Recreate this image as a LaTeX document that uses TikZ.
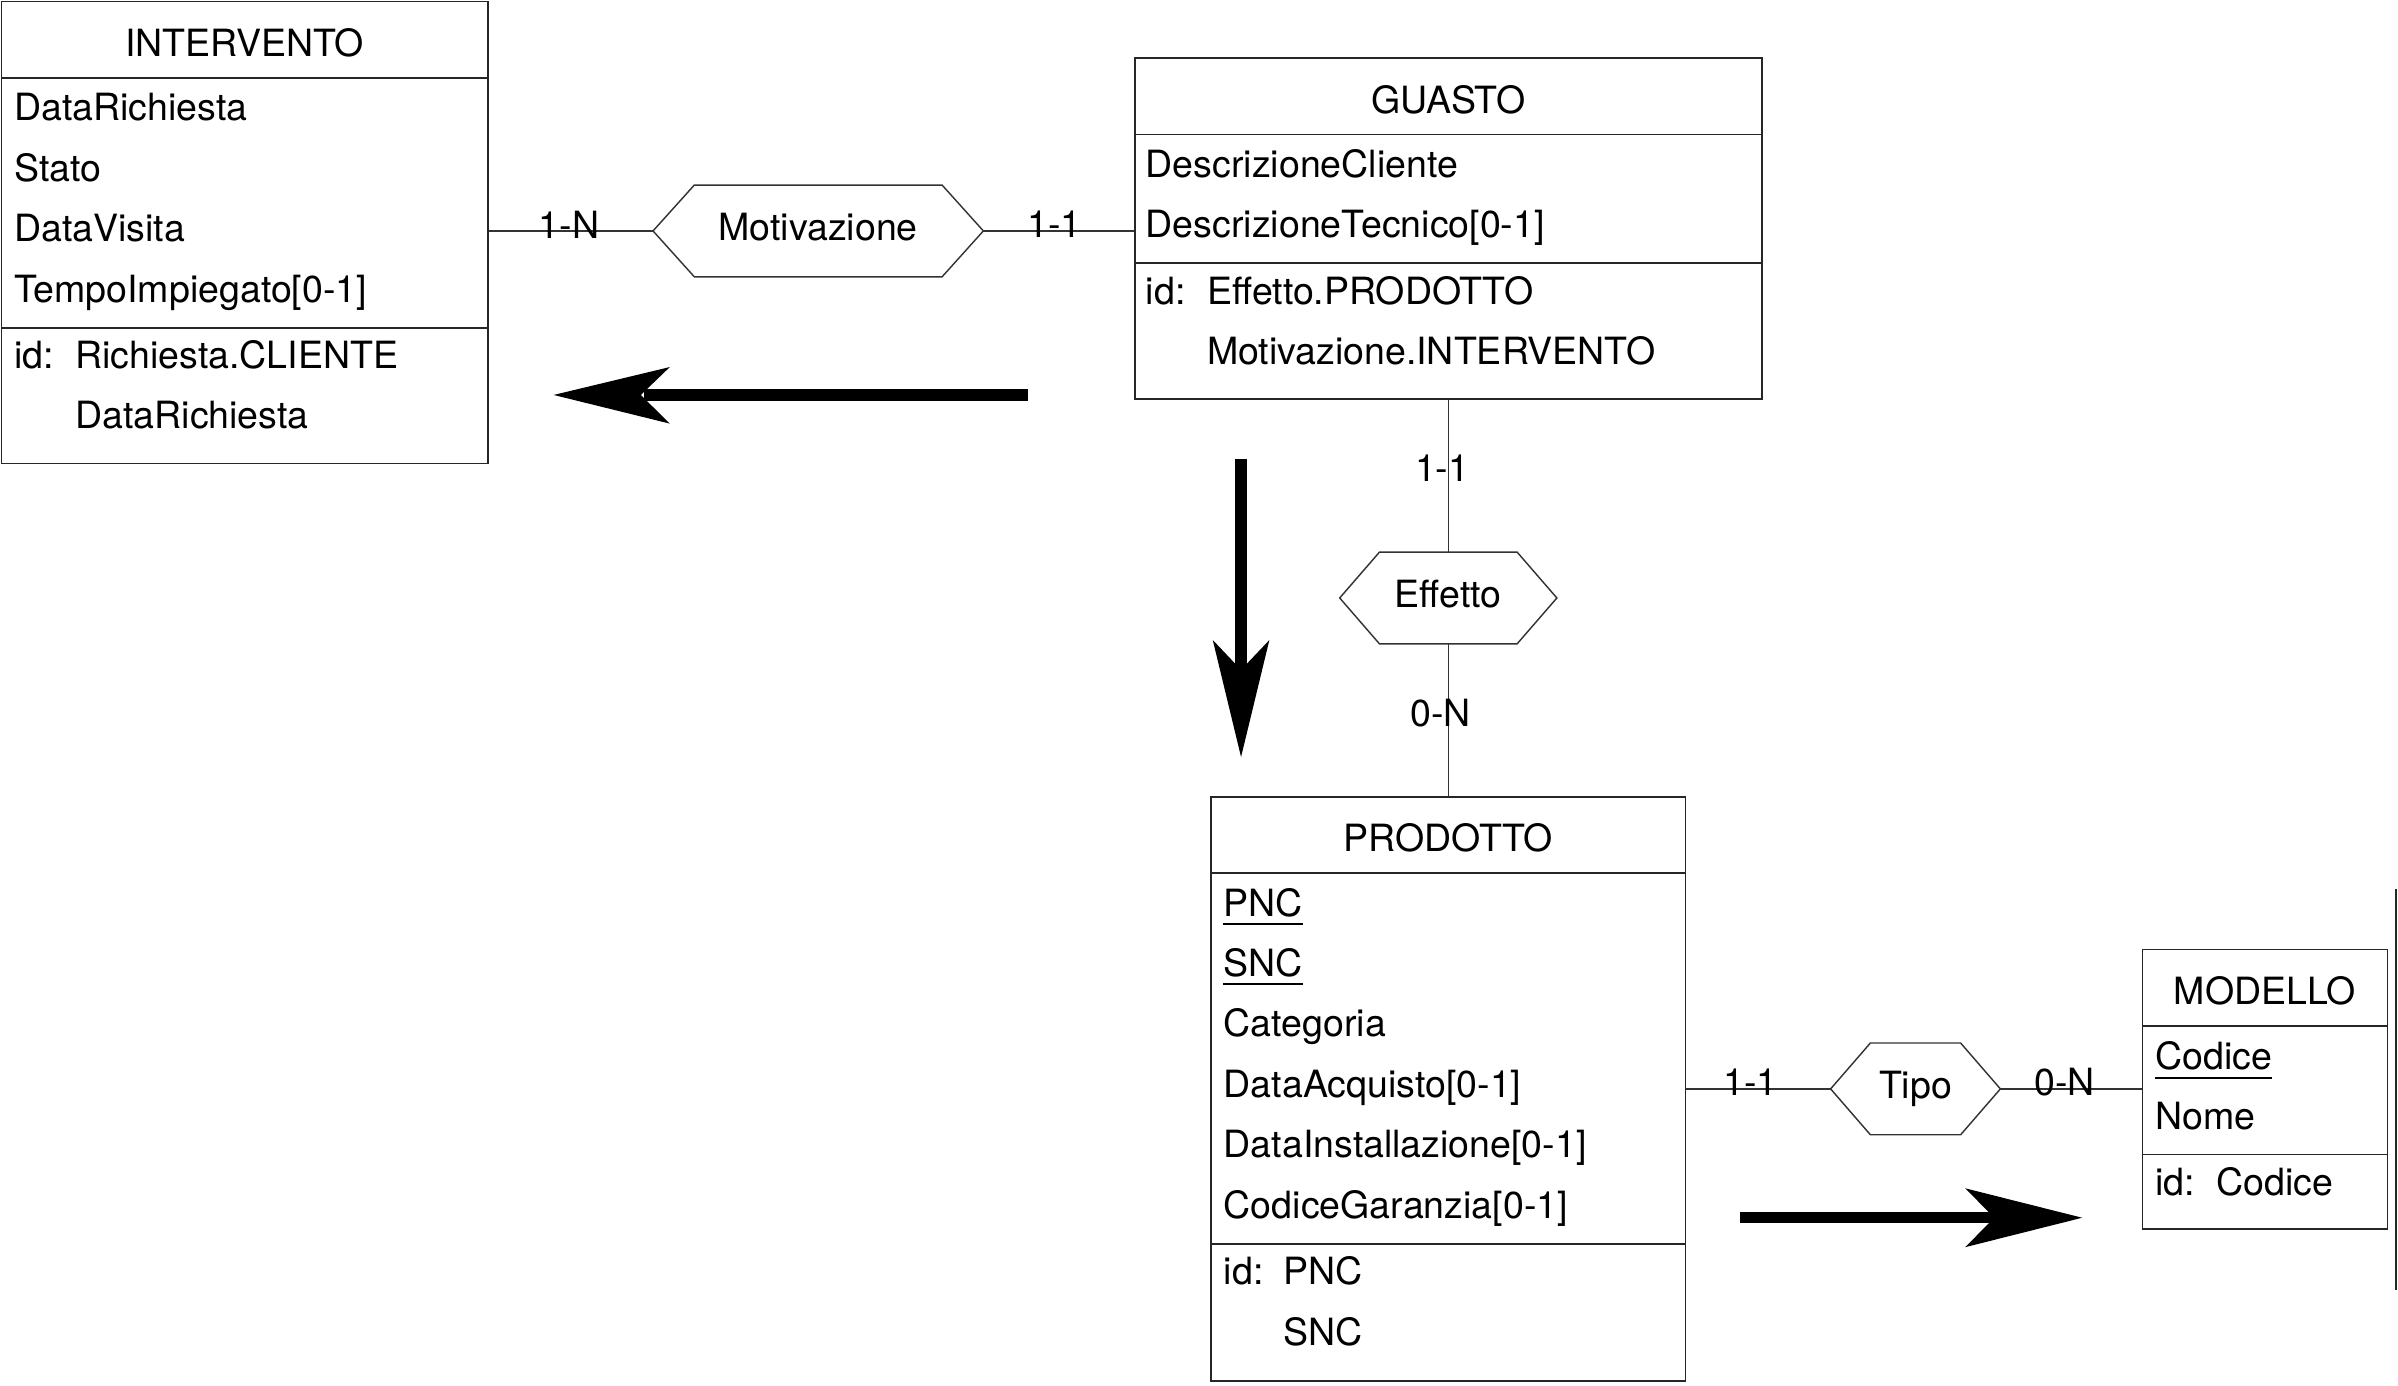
\documentclass[tikz,border=0pt]{standalone}
\usepackage{fontspec}
\setmainfont{TeX Gyre Heros}
\usetikzlibrary{fit}
\newcommand\erfont{\fontsize{18.4}{22}\selectfont}
\begin{document}
\begin{tikzpicture}[x=0.75pt,y=-0.75pt,
  entity/.style={draw=black!85, line width=0.75pt, inner sep=0pt},
  sepline/.style={draw=black!85, line width=0.75pt},
  conn/.style={draw=black!80, line width=0.7pt},
  rel/.style={draw=black!80, line width=0.7pt},
  txt/.style={inner sep=0pt, anchor=base west, font=\erfont, yshift=0.75pt},
  ttl/.style={inner sep=0pt, anchor=base, font=\erfont, yshift=0.75pt},
  card/.style={inner sep=0pt, anchor=base, font=\erfont, yshift=0.75pt},
  uline/.style={draw=black, line width=0.9pt},
  bigarrow/.style={fill=black}]
\useasboundingbox (0,0) rectangle (1568,906);

% ---------- entities ----------
\node (int) [entity, fit={(1,1) (319,303)}] {};
\draw[sepline] (1,51) -- (319,51);
\draw[sepline] (1,214.5) -- (319,214.5);
\node[ttl] (intT) at (160,38) {INTERVENTO};
\node[txt] (i1) at (9,80) {DataRichiesta};
\node[txt] (i2) at (9,119.5) {Stato};
\node[txt] (i3) at (9,159) {DataVisita};
\node[txt] (i4) at (9,198.5) {TempoImpiegato[0-1]};
\node[txt] (i5) at (9,242) {id:};
\node[txt] (i6) at (49,242) {Richiesta.CLIENTE};
\node[txt] (i7) at (49,281.5) {DataRichiesta};

\node (gua) [entity, fit={(742,38) (1152,261)}] {};
\draw[sepline] (742,88) -- (1152,88);
\draw[sepline] (742,172) -- (1152,172);
\node[ttl] (guaT) at (947,75) {GUASTO};
\node[txt] (g1) at (749,117) {DescrizioneCliente};
\node[txt] (g2) at (749,156.5) {DescrizioneTecnico[0-1]};
\node[txt] (g3) at (749,200) {id:};
\node[txt] (g4) at (789,200) {Effetto.PRODOTTO};
\node[txt] (g5) at (789,239.5) {Motivazione.INTERVENTO};

\node (pro) [entity, fit={(792,521) (1102,903)}] {};
\draw[sepline] (792,571) -- (1102,571);
\draw[sepline] (792,813.5) -- (1102,813.5);
\node[ttl] (proT) at (947,558) {PRODOTTO};
\node[txt] (p1) at (800,600) {PNC};
\node[txt] (p2) at (800,639.5) {SNC};
\node[txt] (p3) at (800,679) {Categoria};
\node[txt] (p4) at (800,718.5) {DataAcquisto[0-1]};
\node[txt] (p5) at (800,758) {DataInstallazione[0-1]};
\node[txt] (p6) at (800,797.5) {CodiceGaranzia[0-1]};
\node[txt] (p7) at (800,841) {id:};
\node[txt] (p8) at (839,841) {PNC};
\node[txt] (p9) at (839,880.5) {SNC};
\draw[uline] ([yshift=-3.8pt]p1.base west) -- ([yshift=-3.8pt]p1.base east);
\draw[uline] ([yshift=-3.8pt]p2.base west) -- ([yshift=-3.8pt]p2.base east);

\node (mod) [entity, fit={(1401,621) (1561,803.5)}] {};
\draw[sepline] (1401,671) -- (1561,671);
\draw[sepline] (1401,755) -- (1561,755);
\node[ttl] (modT) at (1481,658) {MODELLO};
\node[txt] (m1) at (1409,700) {Codice};
\node[txt] (m2) at (1409,739.5) {Nome};
\node[txt] (m3) at (1409,783) {id:};
\node[txt] (m4) at (1449,783) {Codice};
\draw[uline] ([yshift=-4.5pt]m1.base west) -- ([yshift=-4.5pt]m1.base east);

% ---------- relationships ----------
\coordinate (motW) at (427,151);
\coordinate (motE) at (643,151);
\draw[rel] (motW) -- (454,121) -- (616,121) -- (motE) -- (616,181) -- (454,181) -- cycle;
\node[ttl] (mot) at (535,158) {Motivazione};

\coordinate (effN) at (947,361);
\coordinate (effS) at (947,421);
\draw[rel] (876,391) -- (902,361) -- (992,361) -- (1018,391) -- (992,421) -- (902,421) -- cycle;
\node[ttl] (eff) at (947,398) {Effetto};

\coordinate (tipW) at (1197,712);
\coordinate (tipE) at (1308,712);
\draw[rel] (tipW) -- (1223,682) -- (1282,682) -- (tipE) -- (1282,742) -- (1223,742) -- cycle;
\node[ttl] (tip) at (1252.5,719) {Tipo};

% ---------- connectors ----------
\draw[conn] (int.east |- motW) -- (motW);
\draw[conn] (motE) -- (gua.west |- motE);
\draw[conn] (gua.south) -- (effN);
\draw[conn] (effS) -- (pro.north);
\draw[conn] (pro.east |- tipW) -- (tipW);
\draw[conn] (tipE) -- (mod.west |- tipE);

% ---------- cardinalities ----------
\node[card] (c1) at (372,157) {1-N};
\node[card] (c2) at (689.5,156) {1-1};
\node[card] (c3) at (943,316) {1-1};
\node[card] (c4) at (942,476) {0-N};
\node[card] (c5) at (1144.5,717) {1-1};
\node[card] (c6) at (1350,717) {0-N};

% ---------- big arrows ----------
\fill[bigarrow] (421,254.5) rectangle (672,262);
\fill[bigarrow] (362,258.25) -- (438,240) -- (419,258.25) -- (438,277) -- cycle;

\fill[bigarrow] (807.5,300) rectangle (815.5,440);
\fill[bigarrow] (811.5,495) -- (793,418.5) -- (811.5,438) -- (830,418.5) -- cycle;

\fill[bigarrow] (1138,792.5) rectangle (1306,800);
\fill[bigarrow] (1361.5,796.25) -- (1285,777) -- (1304,796.25) -- (1285,815.5) -- cycle;

% ---------- edge line at the right border ----------
\draw[black!85, line width=0.9pt] (1566.5,581) -- (1566.5,843.5);
\end{tikzpicture}
\end{document}
